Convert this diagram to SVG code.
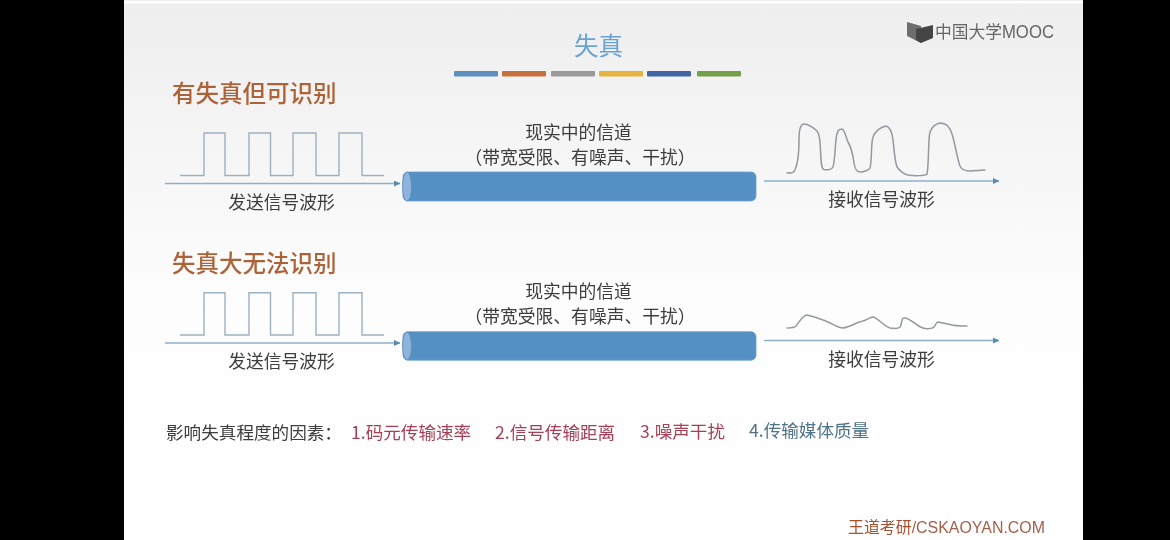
<svg xmlns="http://www.w3.org/2000/svg" width="1170" height="540" viewBox="0 0 1170 540">
<style>
text{font-family:"Noto Sans CJK SC","Liberation Sans",sans-serif;}
.body{font-size:17.8px;fill:#3d3d3d;text-anchor:middle;}
.head{font-size:23.5px;font-weight:500;fill:#ad6238;}
.fact{font-size:17.6px;}
.red{fill:#a83f55;}
.blue{fill:#4f7389;}
.sq{fill:none;stroke:#9db1c1;stroke-width:1.4;}
.rx{fill:none;stroke:#92999f;stroke-width:1.5;stroke-linejoin:round;stroke-linecap:round;}
.arrow{fill:none;stroke:#8fb0ca;stroke-width:1.3;marker-end:url(#tip);}
.pipe{fill:#5590c4;stroke:#6fa0cc;stroke-width:.8;}
.cap{fill:#8db4dc;stroke:#5f8db8;stroke-width:.8;}
</style>
<defs>
<linearGradient id="bg" x1="0" y1="0" x2="0" y2="1">
<stop offset="0" stop-color="#eeeeee"/><stop offset=".3" stop-color="#f6f6f6"/><stop offset=".55" stop-color="#fdfdfd"/><stop offset="1" stop-color="#ffffff"/>
</linearGradient>
<marker id="tip" markerWidth="7" markerHeight="6" refX="6" refY="3" orient="auto" markerUnits="userSpaceOnUse">
<path d="M0 0L6.500 3L0 6Z" fill="#5b8bb0"/>
</marker>
<filter id="soft" x="-2%" y="-2%" width="104%" height="104%"><feGaussianBlur stdDeviation="0.4"/></filter>
</defs>
<rect width="1170" height="540" fill="#000"/>
<rect x="124" y="0" width="959" height="540" fill="url(#bg)"/>
<rect x="124" y="1" width="959" height="2.500" fill="#fff"/>
<g filter="url(#soft)">
<g id="title">
<text x="598.500" y="55" font-size="24.500" text-anchor="middle" fill="#6aa3d2">失真</text>
<rect x="454" y="71" width="44" height="5.500" rx="1" fill="#5b8fbd"/>
<rect x="502" y="71" width="44" height="5.500" rx="1" fill="#c8703d"/>
<rect x="551" y="71" width="44" height="5.500" rx="1" fill="#9a9a9a"/>
<rect x="599" y="71" width="44" height="5.500" rx="1" fill="#e4b43e"/>
<rect x="647" y="71" width="44" height="5.500" rx="1" fill="#3f66a6"/>
<rect x="697" y="71" width="44" height="5.500" rx="1" fill="#75a04b"/>
</g>
<g id="logo">
<path d="M907 22L921 26V43L907 36Z" fill="#6e6e6e"/>
<path d="M916 29L933 25V38L921 43L916 40Z" fill="#444"/>
<text x="935" y="38" font-size="17.500" fill="#666" textLength="119" lengthAdjust="spacingAndGlyphs">中国大学<tspan font-family="'Liberation Sans',sans-serif">MOOC</tspan></text>
</g>
<g id="heading-1"><text class="head" x="172" y="102">有失真但可识别</text></g>
<g id="heading-2"><text class="head" x="172" y="272">失真大无法识别</text></g>
<g id="connectors">
<path class="arrow" d="M165 183.500H400"/>
<path class="arrow" d="M764 181H999"/>
<path class="arrow" d="M165 343H400"/>
<path class="arrow" d="M764 340.500H999"/>
</g>
<g id="send-1">
<path class="sq" d="M180 175.500H204V133H225V175.500H249V133H270.500V175.500H293V133H316V175.500H339V133H362V175.500H384"/>
<text class="body" x="281.500" y="209">发送信号波形</text>
</g>
<g id="channel-1">
<text class="body" x="578.500" y="139">现实中的信道</text>
<text class="body" x="580" y="164">（带宽受限、有噪声、干扰）</text>
<rect class="pipe" x="403" y="172" width="353" height="29" rx="5"/>
<ellipse class="cap" cx="407" cy="186.500" rx="4.500" ry="14.500"/>
</g>
<g id="receive-1">
<path class="rx" d="M787 172.700C790 173.500 793 174 795 170C798 163 799 150 799 140C799 130 801 124 804 124C808 124 814 128 817 131C820 134 820 142 820.500 150C821 160 821 169 824 169.500C828 170 832 169 833 167C835 160 835 148 836 140C837 130 839 129 842 129C845 130 846 138 848 142C851 147 853 155 854 163C855 170 857 172 860 172C864 172 869 170 870 168C872 160 871 142 873 137C875 131 881 127 886 126C890 127 892 132 893 140C894 150 895 162 897 167C900 171 904 174 908 175C914 176 925 176 927 174C929 165 928 140 930 132C932 127 935 124 940 123C946 123 950 127 952 134C955 143 957 158 960 166C962 170 965 171 970 171L985 170"/>
<text class="body" x="881.500" y="206">接收信号波形</text>
</g>
<g id="send-2">
<path class="sq" d="M180 335H204V292.700H225V335H249V292.700H270.500V335H293V292.700H316V335H339V292.700H362V335H384"/>
<text class="body" x="281.500" y="368">发送信号波形</text>
</g>
<g id="channel-2">
<text class="body" x="578.500" y="298">现实中的信道</text>
<text class="body" x="580" y="323">（带宽受限、有噪声、干扰）</text>
<rect class="pipe" x="403" y="331.700" width="353" height="28.500" rx="5"/>
<ellipse class="cap" cx="407" cy="346" rx="4.500" ry="14"/>
</g>
<g id="receive-2">
<path class="rx" d="M787 328C790 328 794 328 796 326C799 322 803 315 807 315C812 316 818 318 823 320C830 322 837 328 843 328C850 327 857 322 863 321C867 320 870 317 873 317C878 318 885 327 890 328C893 328.500 898 329 900 327C902 325 901 318 904 318C909 317 918 327 923 328C926 329 932 329 934 327C936 325 936 322 938 322L950 324.500C955 326 961 326 967 326"/>
<text class="body" x="881.500" y="366">接收信号波形</text>
</g>
<g id="factors">
<text class="fact" x="166" y="439" fill="#3d3d3d" font-size="17">影响失真程度的因素：</text>
<text class="fact red" x="351" y="439">1.码元传输速率</text>
<text class="fact red" x="495" y="439">2.信号传输距离</text>
<text class="fact red" x="640" y="438">3.噪声干扰</text>
<text class="fact blue" x="749" y="437">4.传输媒体质量</text>
</g>
<g id="footer">
<text x="848" y="533" font-size="16" fill="#a9502f" textLength="197" lengthAdjust="spacingAndGlyphs">王道考研<tspan font-family="'Liberation Sans',sans-serif" fill="#a4604a">/CSKAOYAN.COM</tspan></text>
</g>
</g>
</svg>
